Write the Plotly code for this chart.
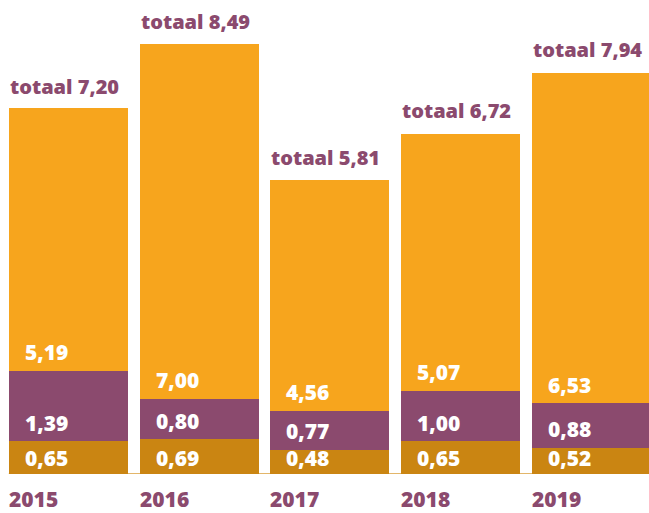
import plotly.graph_objects as go

years = ["2015", "2016", "2017", "2018", "2019"]
bottom_vals = [0.65, 0.69, 0.48, 0.65, 0.52]
middle_vals = [1.39, 0.80, 0.77, 1.00, 0.88]
top_vals = [5.19, 7.00, 4.56, 5.07, 6.53]
totals = [7.20, 8.49, 5.81, 6.72, 7.94]

C_GOLD = "#CA8512"
C_PURPLE = "#8B4A6E"
C_ORANGE = "#F7A51D"
FONT = "Open Sans"

xs = list(range(len(years)))
W = 0.9105

def fmt(v):
    return f"{v:.2f}".replace(".", ",")

fig = go.Figure()
for vals, col in [(bottom_vals, C_GOLD), (middle_vals, C_PURPLE), (top_vals, C_ORANGE)]:
    fig.add_trace(go.Bar(x=xs, y=vals, width=W, marker=dict(color=col, line=dict(width=0)),
                         hoverinfo="skip", showlegend=False))

ann = []
for i in xs:
    left = i - W / 2
    bases = [0, bottom_vals[i], bottom_vals[i] + middle_vals[i]]
    vals = [bottom_vals[i], middle_vals[i], top_vals[i]]
    for k, (b, v) in enumerate(zip(bases, vals)):
        ann.append(dict(x=left, y=b, xref="x", yref="y", text=fmt(v),
                        showarrow=False, xanchor="left", yanchor="middle",
                        xshift=14, yshift=(16 if k == 0 else 18.5),
                        font=dict(family=FONT, size=21, color="white", weight=800)))
    ann.append(dict(x=left, y=totals[i], xref="x", yref="y", text=f"totaal {fmt(totals[i])}",
                    showarrow=False, xanchor="left", yanchor="middle", xshift=-1, yshift=23,
                    font=dict(family=FONT, size=20, color=C_PURPLE, weight=800)))
    ann.append(dict(x=left, y=0, xref="x", yref="y", text=years[i],
                    showarrow=False, xanchor="left", yanchor="middle", xshift=-2, yshift=-25,
                    font=dict(family=FONT, size=21, color=C_PURPLE, weight=800)))

fig.update_layout(
    width=649, height=513,
    margin=dict(l=0, r=0, t=0, b=39, pad=0),
    barmode="stack",
    plot_bgcolor="white", paper_bgcolor="white",
    xaxis=dict(range=[-0.5226, 4.4430], visible=False, fixedrange=True),
    yaxis=dict(range=[0, 9.368], visible=False, fixedrange=True),
    annotations=ann,
    shapes=[dict(type="line", xref="x", yref="y", x0=-W / 2, x1=4.443, y0=0, y1=0,
                 line=dict(color="#E3B66A", width=2), layer="below")],
)

fig.write_html("out.html")
